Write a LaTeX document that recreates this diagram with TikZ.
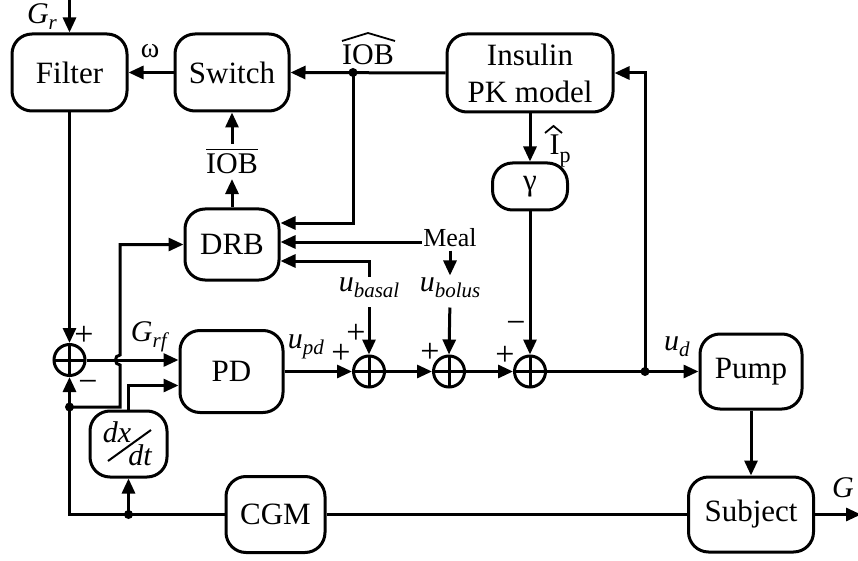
\documentclass[tikz,border=0pt]{standalone}
\usepackage{amsmath}
\usepackage{fontspec}
\setmainfont{Liberation Serif}
\usetikzlibrary{arrows.meta}
\newcommand\ital[2]{\textit{#1}\raisebox{-0.2em}{\fontsize{21}{21}\selectfont\textit{#2}}}
\begin{document}
\begin{tikzpicture}[x=1pt,y=-1pt,line width=3pt,
  blk/.style={draw,rounded corners=20pt,inner sep=0pt,align=center,font=\fontsize{31}{37}\selectfont},
  sumc/.style={draw,circle,minimum size=31pt,inner sep=0pt,
    path picture={\draw[line width=3pt] (path picture bounding box.north) -- (path picture bounding box.south)
      (path picture bounding box.west) -- (path picture bounding box.east);}},
  arr/.style={-{Triangle[length=15pt,width=13pt]}},
  lbl/.style={inner sep=0pt,font=\fontsize{30}{32}\selectfont},
  pm/.style={inner sep=0pt,font=\fontsize{34}{36}\selectfont},
  jdot/.style={circle,fill,inner sep=0pt,minimum size=9pt},
  hat/.style={line width=1.8pt,line join=miter},
]
\useasboundingbox (0,0) rectangle (858,561);
% blocks
\node[blk,minimum width=115pt,minimum height=77pt] (filter) at (69.5,72.5) {Filter};
\node[blk,minimum width=114pt,minimum height=77pt] (switch) at (232,72.5) {Switch};
\node[blk,minimum width=166pt,minimum height=78pt] (pk) at (530,73) {Insulin\\PK model};
\node[blk,minimum width=94pt,minimum height=71pt] (drb) at (232,244.5) {DRB};
\node[blk,minimum width=75pt,minimum height=47pt] (gam) at (530,186.5) {γ};
\node[blk,minimum width=103pt,minimum height=82pt] (pd) at (231.5,371.5) {PD};
\node[blk,minimum width=102pt,minimum height=75pt] (pump) at (751,371.5) {Pump};
\node[blk,minimum width=125pt,minimum height=75pt] (subj) at (751,514.5) {Subject};
\node[blk,minimum width=99pt,minimum height=76pt] (cgm) at (275.5,514.5) {CGM};
\node[blk,minimum width=77pt,minimum height=66pt] (ddt) at (128.5,444) {};
\node[inner sep=0pt,font=\fontsize{30}{32}\selectfont\itshape] (dx) at (117,432) {dx};
\node[inner sep=0pt,font=\fontsize{30}{32}\selectfont\itshape] (dt) at (140,455) {dt};
\coordinate (sla) at (108,461);
\coordinate (slb) at (151,430);
\draw[line width=2pt] (sla) -- (slb);
% sums
\node[sumc] (s0) at (69.5,360) {};
\node[sumc] (s1) at (369,371.5) {};
\node[sumc] (s2) at (449,371.5) {};
\node[sumc] (s3) at (530,371.5) {};
% labels
\node[lbl] (gr) at (42,17) {\ital{G}{r}};
\node[lbl,font=\fontsize{28}{30}\selectfont] (om) at (150,51) {ω};
\node[lbl] (iobbar) at (232,161) {$\overline{\text{IOB}}$};
\node[lbl,anchor=base] (iobhat) at (368,65) {IOB};
\coordinate (h1a) at (342,41); \coordinate (h1b) at (368,33); \coordinate (h1c) at (395,41);
\draw[hat] (h1a) -- (h1b) -- (h1c);
\node[lbl,anchor=base west] (ip) at (548,155) {I\raisebox{-0.25em}{\fontsize{22}{22}\selectfont p}};
\coordinate (h2a) at (545,133); \coordinate (h2b) at (553.5,126); \coordinate (h2c) at (562,133);
\draw[hat] (h2a) -- (h2b) -- (h2c);
\node[lbl,font=\fontsize{26}{28}\selectfont] (meal) at (450,238) {Meal};
\node[lbl] (ubas) at (369,288) {\ital{u}{basal}};
\node[lbl] (ubol) at (450,288) {\ital{u}{bolus}};
\node[lbl] (grf) at (150,337) {\ital{G}{rf}};
\node[lbl] (upd) at (306,347) {\ital{u}{pd}};
\node[lbl] (ud) at (677,347) {\ital{u}{d}};
\node[lbl] (gout) at (843,488) {\textit{G}};
\node[pm] (p0a) at (84,336) {+};
\node[pm] (p0b) at (88,386) {−};
\node[pm] (p1a) at (341,354) {+};
\node[pm] (p1b) at (356,334) {+};
\node[pm] (p2a) at (430,353) {+};
\node[pm] (p3a) at (505,356) {+};
\node[pm] (p3b) at (516,327) {−};
% junctions
\coordinate (grin) at (69.5,0);
\coordinate (j1) at (353,72.5);
\coordinate (j2) at (645,371.5);
\coordinate (j3) at (128.5,514.5);
\coordinate (j4) at (69.5,407);
\coordinate (gend) at (861,514.5);
\coordinate (hop1) at (120,407);
\coordinate (hop2) at (120,365);
\coordinate (hop3) at (120,355);
\coordinate (dmid) at ([yshift=2.5pt]drb.east);
\node[jdot] at (j1) {};
\node[jdot] at (j2) {};
\node[jdot] at (j3) {};
\node[jdot] at (j4) {};
% connectors
\draw[arr] (grin) -- (filter.north);
\draw[arr] (switch.west) -- (filter.east);
\draw[arr] (pk.west) -- (switch.east);
\draw[arr] (j1) |- ([yshift=21.5pt]drb.east);
\draw[arr] (meal.west |- dmid) -- (dmid);
\draw[arr] (ubas.north) |- ([yshift=-16.5pt]drb.east);
\draw[arr,shorten <=2pt,shorten >=1pt] (meal.south) -- (ubol.north);
\draw[arr,shorten <=8pt] (ubas.south) -- (s1.north);
\draw[arr,shorten <=8pt] (ubol.south) -- (s2.north);
\draw[arr,shorten >=4pt] (drb.north) -- (iobbar.south);
\draw[arr,shorten <=3pt] (iobbar.north) -- (switch.south);
\draw[arr] (pk.south) -- (gam.north);
\draw[arr] (gam.south) -- (s3.north);
\draw[arr] (filter.south) -- (s0.north);
\draw[arr] (s0.east) -- (s0.east -| pd.west);
\draw[arr] (ddt.north) |- ([yshift=-14pt]pd.west);
\draw[arr] (pd.east) -- (s1.west);
\draw[arr] (s1.east) -- (s2.west);
\draw[arr] (s2.east) -- (s3.west);
\draw[arr] (s3.east) -- (pump.west);
\draw[arr] (j2) |- (pk.east);
\draw[arr] (pump.south) -- (subj.north);
\draw[arr] (subj.east) -- (gend);
\draw (subj.west) -- (cgm.east);
\draw[arr] (cgm.west) -| (s0.south);
\draw[arr] (j3) -- (ddt.south);
\draw[arr] (j4) -- (hop1) -- (hop2) .. controls (114,365) and (114,355) .. (hop3) |- (drb.west);
\end{tikzpicture}
\end{document}
